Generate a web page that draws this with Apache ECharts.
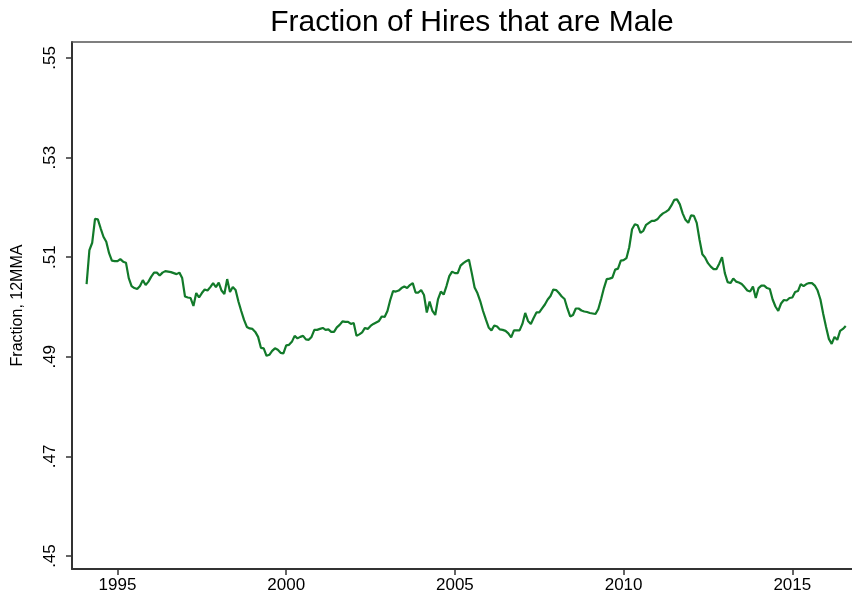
<!DOCTYPE html>
<html lang="en">
  <head>
    <meta charset="UTF-8" />
    <title>Fraction of Hires that are Male</title>
    <script src="https://cdn.jsdelivr.net/npm/echarts@6/dist/echarts.min.js"></script>
    <style>
      body { margin: 0; background: #fff; }
    </style>
  </head>
  <body>
    <div id="main" style="width: 852px; height: 605px"></div>
    <script type="text/javascript">
      // monthly series, first point is Feb 1994
      const startYear = 1994;
      const startMonth = 2;

      // 12 month moving average of male share of hires
      const fraction = [
        0.5046, 0.5114, 0.5129, 0.5177, 0.5176, 0.5158, 0.5141, 0.5131, 0.5108, 0.5093,
        0.5092, 0.5092, 0.5096, 0.5091, 0.5089, 0.5058, 0.5042, 0.5038, 0.5036, 0.5042,
        0.5054, 0.5044, 0.5051, 0.5061, 0.5069, 0.5069, 0.5063, 0.5069, 0.5072, 0.5071,
        0.5070, 0.5068, 0.5066, 0.5069, 0.5058, 0.5021, 0.5019, 0.5018, 0.5002, 0.5028,
        0.5019, 0.5028, 0.5035, 0.5033, 0.5040, 0.5048, 0.5040, 0.5049, 0.5033, 0.5026,
        0.5056, 0.5030, 0.5040, 0.5034, 0.5011, 0.4992, 0.4974, 0.4960, 0.4957, 0.4956,
        0.4950, 0.4940, 0.4918, 0.4917, 0.4902, 0.4904, 0.4912, 0.4917, 0.4914, 0.4908,
        0.4907, 0.4923, 0.4924, 0.4930, 0.4942, 0.4937, 0.4940, 0.4942, 0.4935, 0.4934,
        0.4940, 0.4954, 0.4954, 0.4956, 0.4958, 0.4954, 0.4955, 0.4950, 0.4950, 0.4959,
        0.4964, 0.4971, 0.4970, 0.4970, 0.4966, 0.4968, 0.4942, 0.4945, 0.4949, 0.4958,
        0.4956, 0.4962, 0.4966, 0.4969, 0.4972, 0.4981, 0.4980, 0.4992, 0.5014, 0.5032,
        0.5031, 0.5033, 0.5038, 0.5041, 0.5038, 0.5044, 0.5048, 0.5029, 0.5029, 0.5034,
        0.5024, 0.4989, 0.5011, 0.4992, 0.4984, 0.5016, 0.5031, 0.5025, 0.5042, 0.5062,
        0.5071, 0.5068, 0.5068, 0.5083, 0.5088, 0.5092, 0.5095, 0.5068, 0.5039, 0.5028,
        0.5012, 0.4992, 0.4975, 0.4959, 0.4953, 0.4963, 0.4961, 0.4955, 0.4954, 0.4952,
        0.4947, 0.4939, 0.4953, 0.4953, 0.4953, 0.4966, 0.4988, 0.4972, 0.4966, 0.4978,
        0.4989, 0.4989, 0.4997, 0.5005, 0.5015, 0.5022, 0.5035, 0.5034, 0.5028, 0.5021,
        0.5016, 0.4997, 0.4981, 0.4984, 0.4997, 0.4997, 0.4993, 0.4991, 0.4990, 0.4988,
        0.4987, 0.4986, 0.4996, 0.5016, 0.5038, 0.5056, 0.5057, 0.5059, 0.5075, 0.5077,
        0.5093, 0.5094, 0.5098, 0.5120, 0.5156, 0.5166, 0.5164, 0.5149, 0.5153, 0.5165,
        0.5169, 0.5173, 0.5173, 0.5176, 0.5183, 0.5188, 0.5191, 0.5195, 0.5204, 0.5215,
        0.5216, 0.5206, 0.5188, 0.5175, 0.5169, 0.5184, 0.5183, 0.5169, 0.5135, 0.5106,
        0.5099, 0.5088, 0.5081, 0.5076, 0.5076, 0.5087, 0.5100, 0.5068, 0.5050, 0.5048,
        0.5057, 0.5051, 0.5049, 0.5046, 0.5040, 0.5033, 0.5031, 0.5041, 0.5018, 0.5038,
        0.5043, 0.5043, 0.5038, 0.5036, 0.5015, 0.5001, 0.4992, 0.5007, 0.5014, 0.5013,
        0.5018, 0.5019, 0.5030, 0.5032, 0.5046, 0.5042, 0.5046, 0.5048, 0.5048, 0.5043,
        0.5033, 0.5015, 0.4986, 0.4960, 0.4936, 0.4926, 0.4940, 0.4934, 0.4952, 0.4956,
        0.4962
      ];

      const yearTicks = [1995, 2000, 2005, 2010, 2015];
      const fracTicks = [0.45, 0.47, 0.49, 0.51, 0.53, 0.55];
      const fracLabels = [".45", ".47", ".49", ".51", ".53", ".55"];

      // x as decimal year
      const points = fraction.map((v, i) => [startYear + (startMonth - 1 + i) / 12, v]);

      let myChart = echarts.init(document.getElementById("main"));

      const font = "Liberation Sans";
      const xMin = 1993.651;
      const xMax = 2016.769;

      let options = {
        animation: false,
        backgroundColor: "#fff",
        title: {
          text: "Fraction of Hires that are Male",
          left: 467,
          top: 3,
          textAlign: "center",
          textStyle: { fontFamily: font, fontSize: 30, fontWeight: "normal", color: "#000" },
        },
        grid: {
          left: 72,
          right: 0,
          top: 42,
          bottom: 36,
        },
        xAxis: [
          {
            type: "value",
            min: xMin,
            max: xMax,
            splitLine: { show: false },
            axisLine: { lineStyle: { color: "#333", width: 2 } },
            axisTick: { length: 6, lineStyle: { color: "#333", width: 1.5 }, customValues: yearTicks },
            axisLabel: {
              customValues: yearTicks,
              formatter: (v) => String(v),
              fontFamily: font,
              fontSize: 17,
              color: "#000",
              margin: 8,
            },
          },
          {
            // plot region outline along the top
            type: "value",
            position: "top",
            min: xMin,
            max: xMax,
            splitLine: { show: false },
            axisLine: { show: true, lineStyle: { color: "#555", width: 1.5 } },
            axisTick: { show: false },
            axisLabel: { show: false },
          },
        ],
        yAxis: {
          type: "value",
          min: 0.4474,
          max: 0.5532,
          name: "Fraction, 12MMA",
          nameLocation: "middle",
          nameRotate: 90,
          nameGap: 46,
          nameTextStyle: { fontFamily: font, fontSize: 16, color: "#000" },
          splitLine: { show: false },
          axisLine: { show: true, lineStyle: { color: "#333", width: 2 } },
          axisTick: { show: true, length: 6, lineStyle: { color: "#333", width: 1.5 }, customValues: fracTicks },
          axisLabel: {
            customValues: fracTicks,
            rotate: 90,
            fontFamily: font,
            fontSize: 17,
            color: "#000",
            margin: 13,
            formatter: (v) => fracLabels[fracTicks.findIndex((t) => Math.abs(t - v) < 1e-6)] || "",
          },
        },
        series: [
          {
            name: "Fraction male",
            type: "line",
            data: points,
            showSymbol: false,
            lineStyle: { color: "#127a2a", width: 2.2 },
          },
        ],
      };

      myChart.setOption(options);
    </script>
  </body>
</html>
